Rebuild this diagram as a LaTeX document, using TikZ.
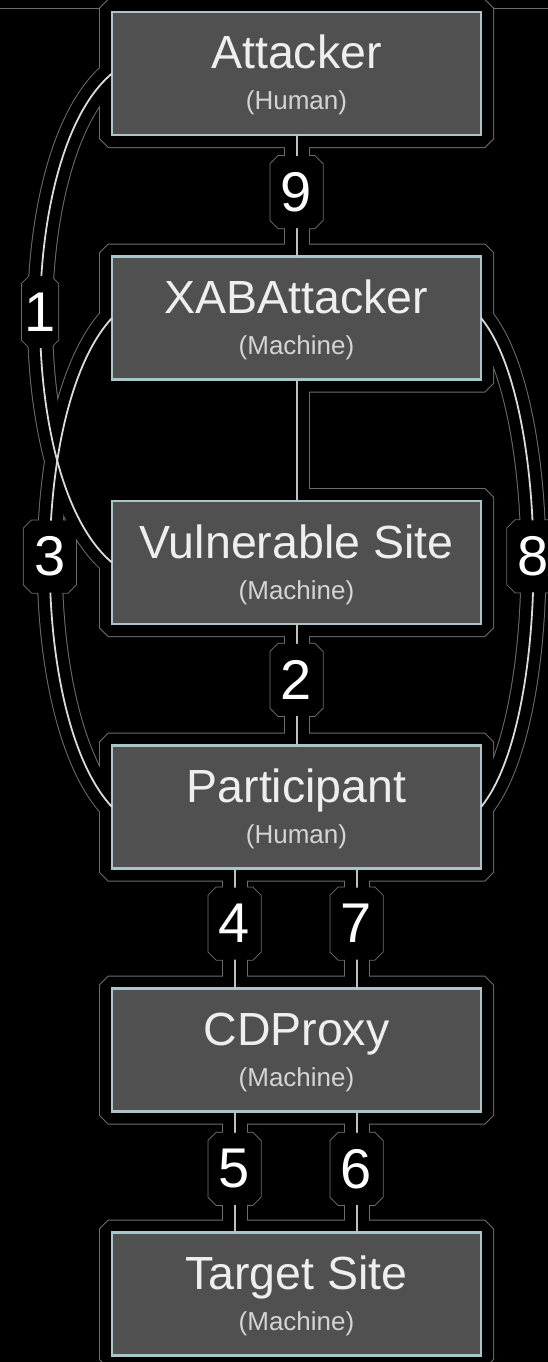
\documentclass[tikz,border=0pt]{standalone}
\usepackage{fontspec}
\setmainfont{Liberation Sans}
\usetikzlibrary{calc}
\pgfdeclarelayer{haloA}
\pgfdeclarelayer{haloB}
\pgfsetlayers{haloA,haloB,main}
\definecolor{boxfill}{HTML}{505050}
\definecolor{boxline}{HTML}{A9C5C9}
\definecolor{txtc}{HTML}{EEEEEE}
\definecolor{subc}{HTML}{D4D4D4}
\definecolor{connc}{HTML}{C0C0C0}
\definecolor{curvc}{HTML}{DADADA}
\definecolor{haloc}{HTML}{6C6C6C}
% chamfered outline around a point: centre, half width, half height, chamfer
\newcommand\chamfat[4]{($(#1)+(-#2,#3-#4)$) -- ($(#1)+(#4-#2,#3)$) -- ($(#1)+(#2-#4,#3)$) -- ($(#1)+(#2,#3-#4)$) -- ($(#1)+(#2,#4-#3)$) -- ($(#1)+(#2-#4,-#3)$) -- ($(#1)+(#4-#2,-#3)$) -- ($(#1)+(-#2,#4-#3)$) -- cycle}
% all connectors; #1 straight style, #2 curve style
\newcommand\allconn[2]{%
  \draw[#1] (att.south) -- (xab.north) coordinate[pos=.47] (c9);
  \draw[#1] (xab.south) -- (vul.north);
  \draw[#1] (vul.south) -- (par.north) coordinate[pos=.46] (c2);
  \draw[#1] ($(par.south)+(-62pt,0pt)$) -- ($(cdp.north)+(-62pt,0pt)$) coordinate[pos=.46] (c4);
  \draw[#1] ($(par.south)+(60pt,0pt)$) -- ($(cdp.north)+(60pt,0pt)$) coordinate[pos=.46] (c7);
  \draw[#1] ($(cdp.south)+(-62pt,0pt)$) -- ($(tgt.north)+(-62pt,0pt)$) coordinate[pos=.475] (c5);
  \draw[#1] ($(cdp.south)+(60pt,0pt)$) -- ($(tgt.north)+(60pt,0pt)$) coordinate[pos=.475] (c6);
  \draw[#2] (att.west) .. controls +(-96,80) and +(-96,-80) .. (vul.west) coordinate[pos=.49] (c1);
  \draw[#2] (xab.west) .. controls +(-83,89) and +(-83,-89) .. (par.west) coordinate[pos=.49] (c3);
  \draw[#2] (xab.east) .. controls +(70,85) and +(70,-85) .. (par.east) coordinate[pos=.49] (c8);
}
\newcommand\leftregion{(112,333) -- (100,333) -- (80,371.5) -- (72,394.5) -- (60,446) -- (58,462) -- (75,509) -- (98,546) -- (112,562) -- (112,502) -- (296.5,502) -- (296.5,379) -- (112,379) -- cycle}
\tikzset{
  box/.style={rectangle, minimum width=369pt, minimum height=123pt, inner sep=0pt, outer sep=0pt, fill=boxfill, draw=boxline, line width=2.2pt},
  ttl/.style={anchor=base, inner sep=0pt, text=txtc, font=\fontsize{46.5pt}{50pt}\selectfont},
  subt/.style={anchor=base, inner sep=0pt, text=subc, font=\fontsize{26pt}{28pt}\selectfont},
  num/.style={inner sep=0pt, text=white, font=\fontsize{56pt}{60pt}\selectfont},
  conn/.style={draw=connc, line width=2pt},
  curv/.style={draw=curvc, line width=1.8pt},
  hgray/.style={draw=haloc, line width=26pt},
  hblack/.style={draw=black, line width=24pt},
}
\begin{document}
\begin{tikzpicture}[x=1pt,y=-1pt]
\useasboundingbox (0,0) rectangle (548,1362);
% boxes
\node[box] (att) at (296.5,73.5) {};
\node[box] (xab) at (296.5,318) {};
\node[box] (vul) at (296.5,562.5) {};
\node[box] (par) at (296.5,807) {};
\node[box] (cdp) at (296.5,1050) {};
\node[box] (tgt) at (296.5,1294) {};
% texts
\node[ttl] (att-t) at ($(att.north)+(0pt,-57pt)$) {Attacker};
\node[subt] (att-s) at ($(att.north)+(0pt,-98pt)$) {(Human)};
\node[ttl] (xab-t) at ($(xab.north)+(0pt,-57pt)$) {XABAttacker};
\node[subt] (xab-s) at ($(xab.north)+(0pt,-98pt)$) {(Machine)};
\node[ttl] (vul-t) at ($(vul.north)+(0pt,-57pt)$) {Vulnerable Site};
\node[subt] (vul-s) at ($(vul.north)+(0pt,-98pt)$) {(Machine)};
\node[ttl] (par-t) at ($(par.north)+(0pt,-57pt)$) {Participant};
\node[subt] (par-s) at ($(par.north)+(0pt,-98pt)$) {(Human)};
\node[ttl] (cdp-t) at ($(cdp.north)+(0pt,-57pt)$) {CDProxy};
\node[subt] (cdp-s) at ($(cdp.north)+(0pt,-98pt)$) {(Machine)};
\node[ttl] (tgt-t) at ($(tgt.north)+(0pt,-57pt)$) {Target Site};
\node[subt] (tgt-s) at ($(tgt.north)+(0pt,-98pt)$) {(Machine)};
% connectors
\allconn{conn}{curv}
% labels
\foreach \c/\t/\w in {c9/9/26pt, c2/2/26pt, c4/4/26pt, c7/7/26pt, c5/5/26pt, c6/6/26pt, c1/1/18pt, c3/3/26pt, c8/8/26pt}{
  \fill[black] \chamfat{\c}{\w}{36pt}{8pt};
  \node[num] (l\t) at (\c) {\t};
}
\draw[haloc, line width=1pt] (0,9) -- (100,9);
\draw[haloc, line width=1pt] (493,9) -- (548,9);
% halo outlines
\begin{pgfonlayer}{haloA}
  \fill[black] (0,0) rectangle (548,1362);
  \allconn{hgray}{hgray}
  \foreach \b in {att,xab,vul,par,cdp,tgt}{
    \fill[haloc] \chamfat{\b.center}{197.5pt}{74.5pt}{9pt};
  }
  \foreach \c/\w in {c9/27pt, c2/27pt, c4/27pt, c7/27pt, c5/27pt, c6/27pt, c1/19pt, c3/27pt, c8/27pt}{
    \fill[haloc] \chamfat{\c}{\w}{37pt}{8.5pt};
  }
  \filldraw[haloc, line width=2pt] \leftregion;
\end{pgfonlayer}
\begin{pgfonlayer}{haloB}
  \allconn{hblack}{hblack}
  \foreach \b in {att,xab,vul,par,cdp,tgt}{
    \fill[black] \chamfat{\b.center}{196.5pt}{73.5pt}{8.5pt};
  }
  \foreach \c/\w in {c9/26pt, c2/26pt, c4/26pt, c7/26pt, c5/26pt, c6/26pt, c1/18pt, c3/26pt, c8/26pt}{
    \fill[black] \chamfat{\c}{\w}{36pt}{8pt};
  }
  \fill[black] \leftregion;
\end{pgfonlayer}
\end{tikzpicture}
\end{document}
